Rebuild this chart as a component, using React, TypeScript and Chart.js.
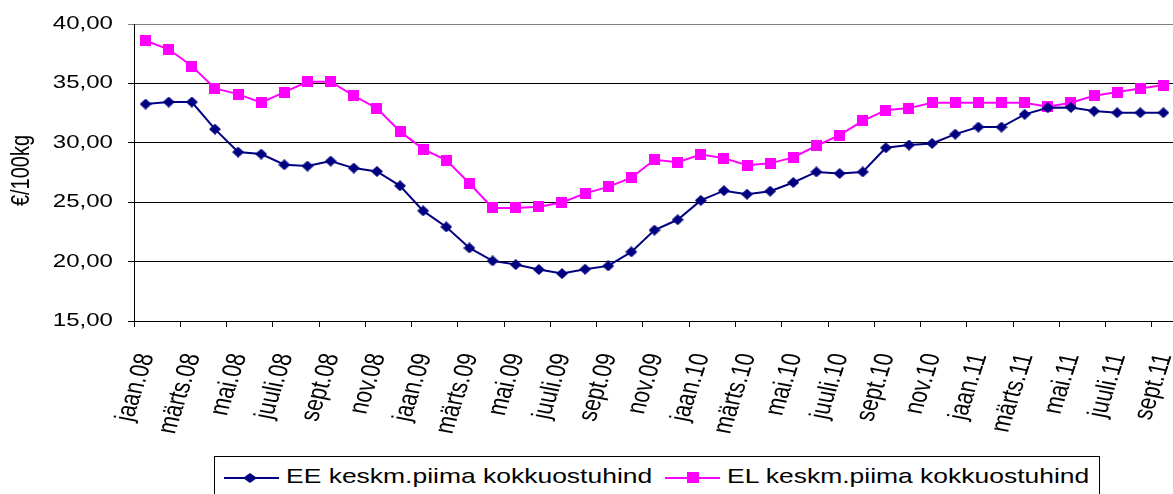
import React, { useEffect, useRef } from 'react';
import { Chart, registerables } from 'chart.js';

Chart.register(...registerables);

const categories = [
  'jaan.08', 'veebr.08', 'märts.08', 'apr.08', 'mai.08', 'juuni.08', 'juuli.08', 'aug.08', 'sept.08', 'okt.08', 'nov.08', 'dets.08',
  'jaan.09', 'veebr.09', 'märts.09', 'apr.09', 'mai.09', 'juuni.09', 'juuli.09', 'aug.09', 'sept.09', 'okt.09', 'nov.09', 'dets.09',
  'jaan.10', 'veebr.10', 'märts.10', 'apr.10', 'mai.10', 'juuni.10', 'juuli.10', 'aug.10', 'sept.10', 'okt.10', 'nov.10', 'dets.10',
  'jaan.11', 'veebr.11', 'märts.11', 'apr.11', 'mai.11', 'juuni.11', 'juuli.11', 'aug.11', 'sept.11',
];

const eeValues = [
  33.26, 33.43, 33.43, 31.15, 29.22, 29.05, 28.15, 28.04, 28.46, 27.87, 27.59, 26.38,
  24.27, 22.92, 21.15, 20.06, 19.75, 19.33, 18.99, 19.36, 19.64, 20.82, 22.65, 23.52,
  25.15, 25.97, 25.67, 25.93, 26.66, 27.55, 27.42, 27.55, 29.58, 29.81, 29.95, 30.73,
  31.32, 31.32, 32.39, 32.95, 32.98, 32.67, 32.53, 32.53, 32.53,
];

const elValues = [
  38.59, 37.87, 36.46, 34.58, 34.10, 33.37, 34.27, 35.14, 35.14, 33.96, 32.90, 30.96,
  29.47, 28.54, 26.60, 24.52, 24.52, 24.61, 24.98, 25.74, 26.29, 27.06, 28.57, 28.37,
  29.02, 28.71, 28.12, 28.27, 28.77, 29.75, 30.65, 31.85, 32.75, 32.92, 33.37, 33.37,
  33.37, 33.37, 33.37, 33.03, 33.37, 33.96, 34.27, 34.58, 34.86,
];

const seriesNames = ['EE keskm.piima kokkuostuhind', 'EL keskm.piima kokkuostuhind'];
const yTitle = '€/100kg';
const yMin = 15;
const yMax = 40;
const yStep = 5;

const NAVY = '#000080';
const MAGENTA = '#FF00FF';
const FONT = '"Liberation Sans", Arial, sans-serif';
const SX = 1.3;

const fmt = (v: number) => v.toFixed(2).replace('.', ',');

function makeDiamond(w: number, h: number, color: string) {
  const c = document.createElement('canvas');
  c.width = w;
  c.height = h;
  const g = c.getContext('2d')!;
  g.fillStyle = color;
  g.beginPath();
  g.moveTo(w / 2, 0);
  g.lineTo(w, h / 2);
  g.lineTo(w / 2, h);
  g.lineTo(0, h / 2);
  g.closePath();
  g.fill();
  return c;
}

function makeSquare(w: number, h: number, color: string) {
  const c = document.createElement('canvas');
  c.width = w;
  c.height = h;
  const g = c.getContext('2d')!;
  g.fillStyle = color;
  g.fillRect(0, 0, w, h);
  return c;
}

const labelPlugin = {
  id: 'stretchedLabels',
  afterDraw(chart: any) {
    const ctx = chart.ctx as CanvasRenderingContext2D;
    const xs = chart.scales.x;
    const ys = chart.scales.y;
    ctx.save();
    ctx.fillStyle = '#000';

    ctx.font = `18.5px ${FONT}`;
    ctx.textAlign = 'right';
    ctx.textBaseline = 'middle';
    ys.ticks.forEach((t: any) => {
      const py = ys.getPixelForValue(t.value);
      ctx.save();
      ctx.translate(chart.chartArea.left - 21, py);
      ctx.scale(SX, 1);
      ctx.fillText(fmt(t.value), 0, 0);
      ctx.restore();
    });

    ctx.font = `21px ${FONT}`;
    ctx.textAlign = 'right';
    ctx.textBaseline = 'middle';
    categories.forEach((lab, i) => {
      if (i % 2 !== 0) return;
      const px = xs.getPixelForValue(i);
      ctx.save();
      ctx.translate(px + 1, chart.chartArea.bottom + 33);
      ctx.scale(SX, 1);
      ctx.rotate((-76 * Math.PI) / 180);
      ctx.fillText(lab, 0, 0);
      ctx.restore();
    });

    ctx.font = `20px ${FONT}`;
    ctx.textAlign = 'center';
    ctx.textBaseline = 'middle';
    ctx.save();
    ctx.translate(22, (chart.chartArea.top + chart.chartArea.bottom) / 2 - 2);
    ctx.scale(SX, 1);
    ctx.rotate(-Math.PI / 2);
    ctx.fillText(yTitle, 0, 0);
    ctx.restore();

    ctx.restore();
  },
};

function ChartCanvas() {
  const ref = useRef<HTMLCanvasElement | null>(null);
  useEffect(() => {
    if (!ref.current) return;
    const diamond = makeDiamond(12, 11, NAVY);
    const square = makeSquare(11, 11, MAGENTA);
    const chart = new Chart(ref.current, {
      type: 'line',
      data: {
        labels: categories,
        datasets: [
          {
            label: seriesNames[0],
            data: eeValues,
            borderColor: NAVY,
            backgroundColor: NAVY,
            borderWidth: 2,
            pointStyle: diamond as any,
            pointRadius: 6,
            tension: 0,
          },
          {
            label: seriesNames[1],
            data: elValues,
            borderColor: MAGENTA,
            backgroundColor: MAGENTA,
            borderWidth: 2,
            pointStyle: square as any,
            pointRadius: 6,
            tension: 0,
          },
        ],
      },
      options: {
        responsive: false,
        animation: false,
        events: [],
        layout: { padding: { top: 24, left: 0, right: 0, bottom: 0 } },
        plugins: {
          legend: { display: false },
          tooltip: { enabled: false },
          title: { display: false },
        },
        scales: {
          x: {
            type: 'category',
            offset: true,
            ticks: { display: false, autoSkip: false },
            grid: {
              offset: true,
              drawOnChartArea: false,
              drawTicks: true,
              tickLength: 6,
              color: (c: any) => (c.index % 2 === 0 ? '#000' : 'rgba(0,0,0,0)'),
            },
            border: { display: true, color: '#000', width: 1 },
            afterFit: (s: any) => {
              s.height = 494 - 321;
            },
          },
          y: {
            type: 'linear',
            min: yMin,
            max: yMax,
            ticks: { display: false, stepSize: yStep },
            grid: {
              color: (c: any) => (c.tick && c.tick.value === yMax ? '#808080' : '#000'),
              lineWidth: 1,
              drawTicks: true,
              tickLength: 6,
            },
            border: { display: true, color: '#000', width: 1 },
            afterFit: (s: any) => {
              s.width = 134;
            },
          },
        },
      },
      plugins: [labelPlugin],
    });
    return () => chart.destroy();
  }, []);
  return (
    <canvas
      ref={ref}
      width={1183}
      height={494}
      style={{ position: 'absolute', left: 0, top: 0, width: 1183, height: 494 }}
    />
  );
}

function Diamond({ color }: { color: string }) {
  return (
    <svg width={14} height={10} style={{ position: 'absolute', left: -7, top: -5 }}>
      <polygon points="7,0 14,5 7,10 0,5" fill={color} />
    </svg>
  );
}

function Legend() {
  const textStyle: React.CSSProperties = {
    position: 'absolute',
    top: 465,
    fontFamily: FONT,
    fontSize: 21,
    lineHeight: '21px',
    whiteSpace: 'nowrap',
    transform: 'scaleX(1.26)',
    transformOrigin: 'left center',
    color: '#000',
  };
  return (
    <>
      <div
        style={{
          position: 'absolute',
          left: 214,
          top: 456,
          width: 886,
          height: 60,
          border: '1px solid #000',
          boxSizing: 'border-box',
          background: '#fff',
        }}
      />
      <div style={{ position: 'absolute', left: 224, top: 477, width: 55, height: 2, background: NAVY }} />
      <div style={{ position: 'absolute', left: 250, top: 478 }}>
        <Diamond color={NAVY} />
      </div>
      <span style={{ ...textStyle, left: 286 }}>{seriesNames[0]}</span>
      <div style={{ position: 'absolute', left: 665, top: 477, width: 55, height: 2, background: MAGENTA }} />
      <div style={{ position: 'absolute', left: 687, top: 472, width: 12, height: 11, background: MAGENTA }} />
      <span style={{ ...textStyle, left: 727 }}>{seriesNames[1]}</span>
    </>
  );
}

export default function App() {
  return (
    <div
      style={{
        position: 'fixed',
        left: 0,
        top: 0,
        width: 1173,
        height: 494,
        overflow: 'hidden',
        background: '#fff',
      }}
    >
      <ChartCanvas />
      <Legend />
    </div>
  );
}
